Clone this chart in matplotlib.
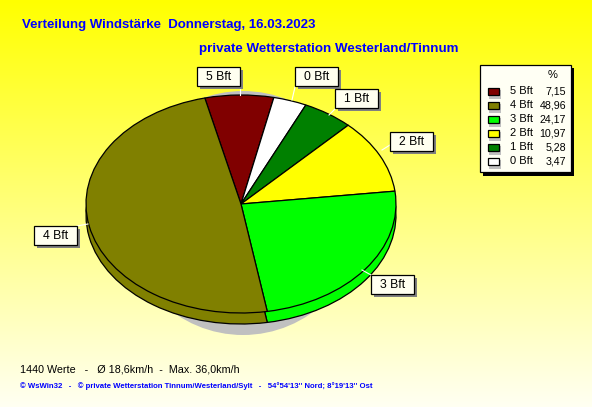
import numpy as np
import matplotlib
matplotlib.use("Agg")
import matplotlib.pyplot as plt
from matplotlib.patches import Rectangle, Ellipse

categories = ["5 Bft", "0 Bft", "1 Bft", "2 Bft", "3 Bft", "4 Bft"]
values = [7.15, 3.47, 5.28, 10.97, 24.17, 48.96]
slice_colors = ["#800000", "#FFFFFF", "#008000", "#FFFF00", "#00FF00", "#808000"]
legend_order = ["5 Bft", "4 Bft", "3 Bft", "2 Bft", "1 Bft", "0 Bft"]
legend_labels = ["7,15", "48,96", "24,17", "10,97", "5,28", "3,47"]
title_1 = "Verteilung Windstärke  Donnerstag, 16.03.2023"
title_2 = "private Wetterstation Westerland/Tinnum"
footer_1 = "1440 Werte   -   Ø 18,6km/h  -  Max. 36,0km/h"
footer_2 = "© WsWin32   -   © private Wetterstation Tinnum/Westerland/Sylt   -   54°54'13'' Nord; 8°19'13'' Ost"

W, H = 592, 407
plt.rcParams["font.family"] = ["Liberation Sans", "DejaVu Sans"]
fig = plt.figure(figsize=(W / 100, H / 100), dpi=100)

# Pixel-coordinate canvas with the yellow-to-pale gradient
bg = fig.add_axes([0, 0, 1, 1], zorder=0)
bg.set_xlim(0, W)
bg.set_ylim(H, 0)
bg.axis("off")
grad = np.linspace(0, 1, 256).reshape(-1, 1)
rgb = np.dstack([np.ones_like(grad), np.ones_like(grad), 0.0 + 0.95 * grad])
bg.imshow(rgb, extent=[0, W, H, 0], aspect="auto", zorder=0)
bg.add_patch(Ellipse((243, 213), 240, 244, fc="#C0C0C0", ec="none", zorder=1))


def pie_axes(cx, cy, rx, ry, z):
    ax = fig.add_axes([(cx - rx) / W, 1 - (cy + ry) / H, 2 * rx / W, 2 * ry / H], zorder=z)
    ax.pie(values, colors=slice_colors, startangle=103.5, counterclock=False,
           radius=1.0, wedgeprops=dict(edgecolor="black", linewidth=0.9))
    ax.set_aspect("auto")
    ax.set_xlim(-1, 1)
    ax.set_ylim(-1, 1)
    ax.patch.set_visible(False)
    for w in ax.patches:
        w.set_clip_on(False)
    return ax


pie_axes(241, 215, 155, 109, 2)   # lower rim
pie_axes(241, 204, 155, 109, 3)   # top surface

fg = fig.add_axes([0, 0, 1, 1], zorder=5)
fg.set_xlim(0, W)
fg.set_ylim(H, 0)
fg.axis("off")

fg.text(22, 25, title_1, color="#0000FF", fontsize=9.55, fontweight="bold", va="center", ha="left")
fg.text(199, 49, title_2, color="#0000FF", fontsize=9.65, fontweight="bold", va="center", ha="left")
fg.text(20, 369, footer_1, color="black", fontsize=7.75, va="center", ha="left")
fg.text(20, 386, footer_2, color="#0000FF", fontsize=5.55, fontweight="bold", va="center", ha="left")

# Callout boxes: left, top of each box and the leader line end-points
boxes = {"5 Bft": (197, 67), "0 Bft": (295, 67), "1 Bft": (335, 89),
         "2 Bft": (390, 132), "3 Bft": (371, 275), "4 Bft": (34, 226)}
leaders = {"5 Bft": ((240, 87), (240, 95)), "0 Bft": ((295, 87), (292, 100)),
           "1 Bft": ((335, 109), (329, 115)), "2 Bft": ((390, 145), (382, 150)),
           "3 Bft": ((371, 275), (362, 270)), "4 Bft": ((77, 226), (88, 224))}
BW, BH = 42.5, 19
for name in categories:
    x, y = boxes[name]
    (x0, y0), (x1, y1) = leaders[name]
    fg.plot([x0, x1], [y0, y1], color="white", lw=0.8, zorder=2)
    fg.add_patch(Rectangle((x + 3, y + 3), BW, BH, fc="#808080", ec="none", zorder=3))
    fg.add_patch(Rectangle((x, y), BW, BH, fc="#FFFFF0", ec="black", lw=0.9, zorder=4))
    fg.text(x + BW / 2 + 0.5, y + BH / 2 + 0.5, name, fontsize=8.8, ha="center", va="center", zorder=5)

# Legend
fg.add_patch(Rectangle((483, 68), 91, 108, fc="black", ec="none", zorder=2))
fg.add_patch(Rectangle((480, 65), 91, 107, fc="#FFFFF4", ec="black", lw=0.9, zorder=3))
fg.text(553, 75, "%", fontsize=8, ha="center", va="center", zorder=5)
color_of = dict(zip(categories, slice_colors))
for i, (name, lab) in enumerate(zip(legend_order, legend_labels)):
    yc = 91 + 14 * i
    fg.add_patch(Rectangle((489, yc - 1), 12, 9, fc="#C0C0C0", ec="none", zorder=3.5))
    fg.add_patch(Rectangle((487.5, yc - 3.5), 11, 7, fc=color_of[name], ec="black", lw=0.9, zorder=4))
    fg.text(510, yc + 0.5, name, fontsize=8, ha="left", va="center", zorder=5)
    fg.text(566, yc + 0.5, lab, fontsize=7.7, ha="right", va="center", zorder=5)

fig.savefig("out.png", dpi=100)
